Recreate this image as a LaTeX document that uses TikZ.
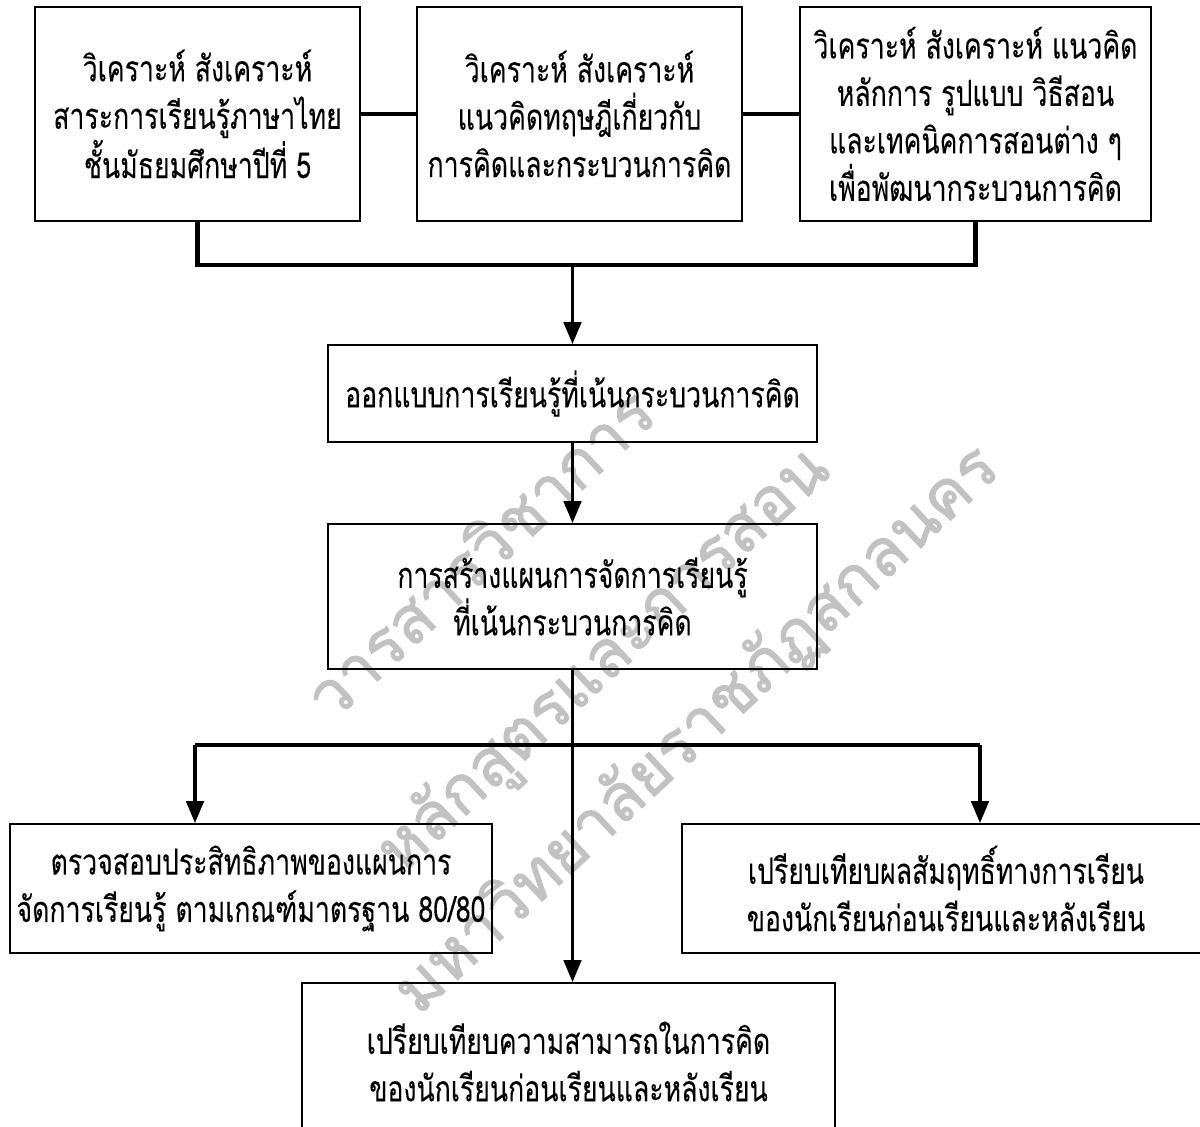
\documentclass[tikz,border=0pt]{standalone}
\usepackage{fontspec}
\newfontfamily\thaifont[Script=Thai,FakeStretch=0.74,FakeBold=0.1]{Loma}
\newfontfamily\markfont[Script=Thai,FakeBold=1.5]{Loma}
\usetikzlibrary{arrows.meta}

\begin{document}
\begin{tikzpicture}[x=0.02cm,y=-0.02cm]
\useasboundingbox (0,0) rectangle (1200,1126);
\begin{scope}[every node/.style={text=black!24,rotate=43,font=\markfont\fontsize{37}{37}\selectfont}]
    \node (w1) at (478,552) {วารสารวิชาการ};
    \node (w2) at (605,662) {หลักสูตรและการสอน};
    \node (w3) at (697,730) {มหาวิทยาลัยราชภัฏสกลนคร};
\end{scope}
\begin{scope}[every node/.style={draw,line width=1.1pt,align=center,inner sep=0pt,
              font=\thaifont\fontsize{20.5}{27}\selectfont}]
    \node[minimum width=6.5cm,minimum height=4.28cm] (a1) at (197.5,114) {วิเคราะห์ สังเคราะห์\\สาระการเรียนรู้ภาษาไทย\\ชั้นมัธยมศึกษาปีที่ 5};
    \node[minimum width=6.5cm,minimum height=4.28cm] (a2) at (579.5,114) {วิเคราะห์ สังเคราะห์\\แนวคิดทฤษฎีเกี่ยวกับ\\การคิดและกระบวนการคิด};
    \node[minimum width=7.02cm,minimum height=4.28cm] (a3) at (975.5,114) {วิเคราะห์ สังเคราะห์ แนวคิด\\หลักการ รูปแบบ วิธีสอน\\และเทคนิคการสอนต่าง ๆ\\เพื่อพัฒนากระบวนการคิด};
    \node[minimum width=9.8cm,minimum height=1.94cm] (b1) at (572.5,393.5) {ออกแบบการเรียนรู้ที่เน้นกระบวนการคิด};
    \node[minimum width=9.8cm,minimum height=2.9cm] (b2) at (572.5,596.5) {การสร้างแผนการจัดการเรียนรู้\\ที่เน้นกระบวนการคิด};
    \node[minimum width=9.64cm,minimum height=2.58cm] (c1) at (251,888.5) {ตรวจสอบประสิทธิภาพของแผนการ\\จัดการเรียนรู้ ตามเกณฑ์มาตรฐาน 80/80};
    \node[minimum width=10.56cm,minimum height=2.58cm] (c2) at (946,888.5) {เปรียบเทียบผลสัมฤทธิ์ทางการเรียน\\ของนักเรียนก่อนเรียนและหลังเรียน};
    \node[minimum width=10.66cm,minimum height=3.14cm] (c3) at (568.5,1061.5) {เปรียบเทียบความสามารถในการคิด\\ของนักเรียนก่อนเรียนและหลังเรียน};
\end{scope}
\coordinate (j1) at (572.5,265);
\coordinate (j2) at (572.5,745);
\coordinate (l2) at (195,745);
\coordinate (r2) at (980,745);
\begin{scope}[every edge/.style={draw=black,line width=1.8pt},
              arr/.style={-{Triangle[length=12.5pt,width=10pt]}}]
    \path (a1) edge (a2);
    \path (a2) edge (a3);
    \draw[line width=2.4pt] (a1.south) |- (j1) -| (a3.south);
    \path (j1) edge[arr] (b1.north);
    \path (b1) edge[arr] (b2);
    \path (b2.south) edge[arr] (b2.south |- c3.north);
    \draw[line width=2.4pt] (l2) -- (r2);
    \path (l2) edge[arr] (l2 |- c1.north);
    \path (r2) edge[arr] (r2 |- c2.north);
\end{scope}
\end{tikzpicture}
\end{document}
